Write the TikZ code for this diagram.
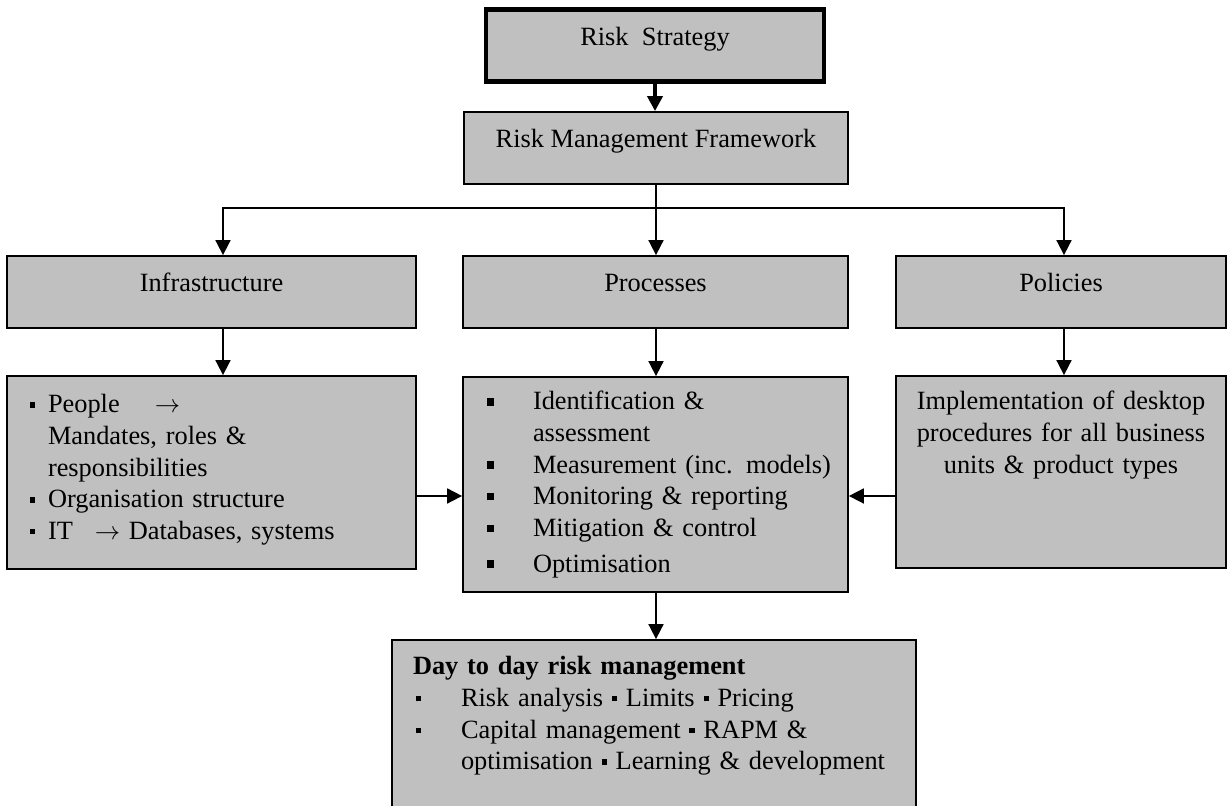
\documentclass[tikz,border=0pt]{standalone}
\usepackage{fontspec}
\setmainfont{Liberation Serif}
\usepackage{tikz}
\usetikzlibrary{arrows.meta}

\definecolor{boxgray}{RGB}{192,192,192}
\newcommand{\sqb}{\rule[0.2em]{0.2em}{0.2em}}
\newcommand{\bigsqb}{\rule[0.17em]{0.28em}{0.28em}}

\tikzset{
  box/.style={draw, fill=boxgray, line width=1pt, inner ysep=0pt},
  onebox/.style={box, text height=0.72cm, text depth=0.72cm},
  >={Triangle[length=0.3cm, width=0.3cm]}
}

\begin{document}
\begin{tikzpicture}[font=\fontsize{15pt}{18pt}\selectfont, line width=1pt]
\useasboundingbox (0, 0) rectangle (24.56, 16.12);

\node[onebox, line width=2.4pt, minimum width=6.76cm] (RS) at (13.1, 15.21) {Risk\ \ Strategy};
\node[onebox, minimum width=7.68cm] (RMF) at (13.12, 13.16) {Risk Management Framework};
\node[onebox, minimum width=8.18cm] (I) at (4.23, 10.28) {Infrastructure};
\node[onebox, minimum width=7.7cm] (P) at (13.11, 10.28) {Processes};
\node[onebox, minimum width=6.6cm] (Po) at (21.22, 10.28) {Policies};

\node[box, text width=7.26cm, inner xsep=0.46cm, align=left, text height=0.74cm, text depth=3.12cm] (L) at (4.23, 6.67) {%
\makebox[0.36cm][l]{\sqb}People \quad$\rightarrow$\\
\hspace*{0.36cm}Mandates, roles \&\\
\hspace*{0.36cm}responsibilities\\
\makebox[0.36cm][l]{\sqb}Organisation structure\\
\makebox[0.36cm][l]{\sqb}IT \enspace$\rightarrow$\ Databases, systems};

\node[box, text width=7.5cm, inner xsep=0.1cm, align=left, text height=0.66cm, text depth=3.64cm] (M) at (13.11, 6.43) {%
\hspace*{0.38cm}\makebox[0.92cm][l]{\bigsqb}Identification \&\\
\hspace*{1.3cm}assessment\\
\hspace*{0.38cm}\makebox[0.92cm][l]{\bigsqb}Measurement (inc. models)\\
\hspace*{0.38cm}\makebox[0.92cm][l]{\bigsqb}Monitoring \& reporting\\
\hspace*{0.38cm}\makebox[0.92cm][l]{\bigsqb}Mitigation \& control\\[0.08cm]
\hspace*{0.38cm}\makebox[0.92cm][l]{\bigsqb}Optimisation};

\node[box, text width=6.2cm, inner xsep=0.2cm, align=center, text height=0.68cm, text depth=3.16cm] (R) at (21.22, 6.68) {%
Implementation of desktop\\
procedures for all business\\
units \& product types};

\node[box, text width=9.64cm, inner xsep=0.42cm, align=left, text height=0.7cm, text depth=2.92cm] (D) at (13.08, 1.51) {%
\textbf{Day to day risk management}\\
\hspace*{0.06cm}\makebox[0.9cm][l]{\sqb}Risk analysis \sqb\ Limits \sqb\ Pricing\\
\hspace*{0.06cm}\makebox[0.9cm][l]{\sqb}Capital management \sqb\ RAPM \&\\
\hspace*{0.96cm}optimisation \sqb\ Learning \& development};

\coordinate (split) at (13.12, 11.96);
\coordinate (side) at (0, 6.2);

\draw[->, line width=2.4pt] (RS.south) -- (RS.south |- RMF.north);
\draw (RMF.south -| split) -- (split);
\draw[->] (split) -| ([xshift=0.23cm]I.north);
\draw[->] (split) -- (split |- P.north);
\draw[->] (split) -| ([xshift=0.06cm]Po.north);
\draw[->] ([xshift=0.23cm]I.south) -- ([xshift=0.23cm]L.north);
\draw[->] (P.south -| split) -- (M.north -| split);
\draw[->] ([xshift=0.06cm]Po.south) -- ([xshift=0.06cm]R.north);
\draw[->] (L.east |- side) -- (M.west |- side);
\draw[->] (R.west |- side) -- (M.east |- side);
\draw[->] (M.south -| split) -- (D.north -| split);
\end{tikzpicture}
\end{document}
